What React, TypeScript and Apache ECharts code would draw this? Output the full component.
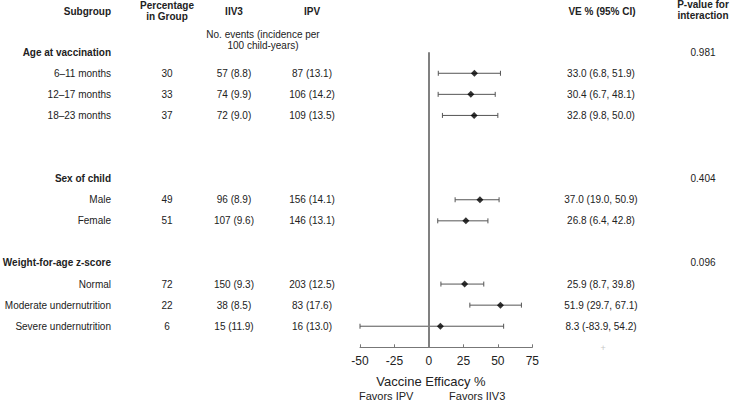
import React, { useEffect, useRef } from "react";
import * as echarts from "echarts";

const rowLabels = [
  "Age at vaccination",
  "6–11 months",
  "12–17 months",
  "18–23 months",
  "Sex of child",
  "Male",
  "Female",
  "Weight-for-age z-score",
  "Normal",
  "Moderate undernutrition",
  "Severe undernutrition",
];
const rowPos = [0, 1, 2, 3, 6, 7, 8, 10, 11, 12, 13];
const isHeading = [true, false, false, false, true, false, false, true, false, false, false];
const pctGroup = ["", "30", "33", "37", "", "49", "51", "", "72", "22", "6"];
const iiv3Events = ["", "57 (8.8)", "74 (9.9)", "72 (9.0)", "", "96 (8.9)", "107 (9.6)", "", "150 (9.3)", "38 (8.5)", "15 (11.9)"];
const ipvEvents = ["", "87 (13.1)", "106 (14.2)", "109 (13.5)", "", "156 (14.1)", "146 (13.1)", "", "203 (12.5)", "83 (17.6)", "16 (13.0)"];
const veValues: (number | null)[] = [null, 33.0, 30.4, 32.8, null, 37.0, 26.8, null, 25.9, 51.9, 8.3];
const ciLow: (number | null)[] = [null, 6.8, 6.7, 9.8, null, 19.0, 6.4, null, 8.7, 29.7, -83.9];
const ciHigh: (number | null)[] = [null, 51.9, 48.1, 50.0, null, 50.9, 42.8, null, 39.8, 67.1, 54.2];
const pInteraction = ["0.981", "", "", "", "0.404", "", "", "0.096", "", "", ""];
const xTicks = { min: -50, max: 75, interval: 25 };

const FONT = "'Liberation Sans', Arial, sans-serif";
const TXT = "#222";

export default function App() {
  const ref = useRef<HTMLDivElement>(null);
  useEffect(() => {
    document.body.style.margin = "0";
    const chart = echarts.init(ref.current!, null, { renderer: "svg" });
    const X_MIN = xTicks.min;

    const pointData: any[] = [];
    const ciData: any[] = [];
    veValues.forEach((v, i) => {
      if (v !== null) {
        pointData.push([v, rowPos[i]]);
        ciData.push([ciLow[i], ciHigh[i], rowPos[i]]);
      }
    });

    chart.setOption({
      animation: false,
      grid: { left: 360, right: 198.7, top: 52.2, height: 295.1 },
      xAxis: {
        type: "value",
        position: "bottom",
        min: xTicks.min,
        max: xTicks.max,
        interval: xTicks.interval,
        splitLine: { show: false },
        axisLine: { onZero: false, lineStyle: { color: "#777", width: 1 } },
        axisTick: { inside: true, length: 3, lineStyle: { color: "#777" } },
        axisLabel: { color: TXT, fontSize: 12, fontFamily: FONT, margin: 8 },
      },
      yAxis: {
        type: "value",
        min: 0,
        max: 14,
        inverse: true,
        show: false,
      },
      series: [
        {
          type: "custom",
          data: ciData,
          silent: true,
          renderItem: (params: any, api: any) => {
            const lo = Math.max(api.value(0), X_MIN);
            const hi = api.value(1);
            const r = api.value(2);
            const p1 = api.coord([lo, r]);
            const p2 = api.coord([hi, r]);
            const st = { stroke: "#555", lineWidth: 1 };
            const h = 2.5;
            return {
              type: "group",
              children: [
                { type: "line", shape: { x1: p1[0], y1: p1[1], x2: p2[0], y2: p2[1] }, style: st },
                { type: "line", shape: { x1: p1[0], y1: p1[1] - h, x2: p1[0], y2: p1[1] + h }, style: st },
                { type: "line", shape: { x1: p2[0], y1: p2[1] - h, x2: p2[0], y2: p2[1] + h }, style: st },
              ],
            };
          },
        },
        {
          type: "scatter",
          data: pointData,
          symbol: "diamond",
          symbolSize: 7,
          itemStyle: { color: "#000" },
          silent: true,
          z: 5,
          markLine: {
            silent: true,
            symbol: "none",
            label: { show: false },
            lineStyle: { color: "#808080", width: 2, type: "solid" },
            data: [{ xAxis: 0 }],
          },
        },
      ],
    });

    const yPix = (r: number) => chart.convertToPixel({ gridIndex: 0 }, [0, r])[1];
    const xPix = (v: number) => chart.convertToPixel({ gridIndex: 0 }, [v, 0])[0];

    const graphics: any[] = [];
    const txt = (x: number, y: number, text: string, align: string, bold = false, size = 10, color = TXT, lineHeight?: number) => {
      graphics.push({
        type: "text",
        x,
        y,
        silent: true,
        style: {
          text,
          align,
          verticalAlign: "middle",
          fill: color,
          font: `${bold ? "bold " : ""}${size}px ${FONT}`,
          lineHeight: lineHeight ?? size + 1,
        },
      });
    };

    // headers
    txt(111, 11, "Subgroup", "right", true);
    txt(167, 10.5, "Percentage\nin Group", "center", true, 10, TXT, 11);
    txt(234, 11, "IIV3", "center", true);
    txt(312, 11, "IPV", "center", true);
    txt(263, 39.5, "No. events (incidence per\n100 child-years)", "center", false, 10, TXT, 11);
    txt(602, 11, "VE % (95% CI)", "center", true);
    txt(703, 9.5, "P-value for\ninteraction", "center", true, 10, TXT, 11);

    rowLabels.forEach((label, i) => {
      const y = yPix(rowPos[i]);
      txt(111, y, label, "right", isHeading[i]);
      if (pctGroup[i]) txt(167, y, pctGroup[i], "center");
      if (iiv3Events[i]) txt(234, y, iiv3Events[i], "center");
      if (ipvEvents[i]) txt(312, y, ipvEvents[i], "center");
      const v = veValues[i];
      if (v !== null) {
        txt(601, y, `${v.toFixed(1)} (${ciLow[i]!.toFixed(1)}, ${ciHigh[i]!.toFixed(1)})`, "center");
      }
      if (pInteraction[i]) txt(703, y, pInteraction[i], "center");
    });

    txt(431, 381, "Vaccine Efficacy %", "center", false, 13);
    txt(xPix(-31), 396, "Favors IPV", "center", false, 11);
    txt(xPix(35), 396, "Favors IIV3", "center", false, 11);
    txt(603, 348, "+", "center", false, 9, "#c8c8c8");

    chart.setOption({ graphic: graphics });

    return () => chart.dispose();
  }, []);
  return <div ref={ref} style={{ width: 731, height: 403 }} />;
}
